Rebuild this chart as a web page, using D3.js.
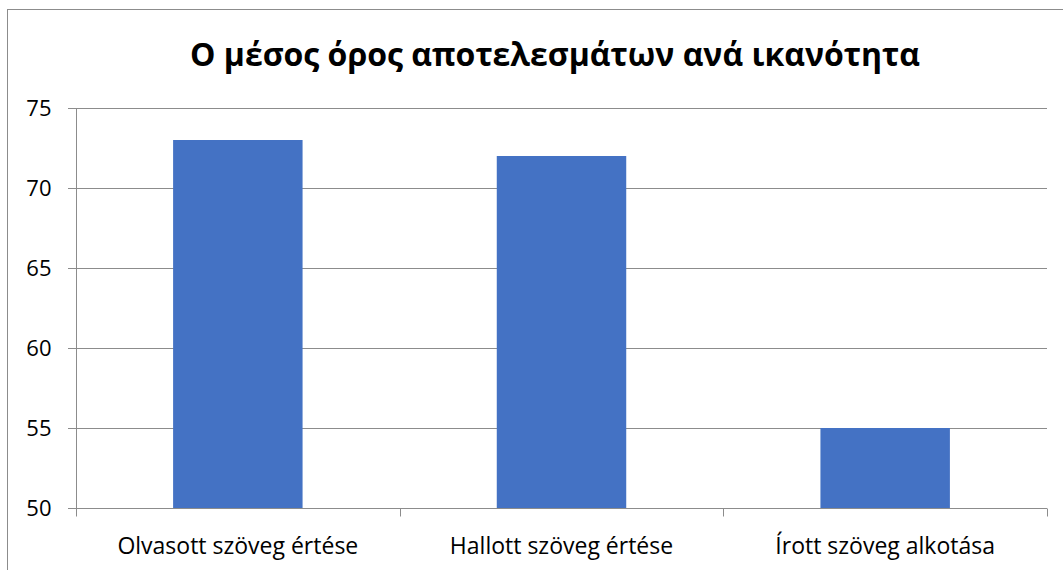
<!DOCTYPE html>
<html>
<head>
<meta charset="utf-8">
<style>
  body { margin: 0; background: #fff; }
  svg { display: block; font-family: "Open Sans", "Noto Sans", sans-serif; }
</style>
</head>
<body>
<svg width="1063" height="570"></svg>
<script src="https://d3js.org/d3.v7.min.js"></script>
<script>

  var title = "Ο μέσος όρος αποτελεσμάτων ανά ικανότητα";
  var categories = ["Olvasott szöveg értése", "Hallott szöveg értése", "Írott szöveg alkotása"];
  var values = [73, 72, 55];
  var yTicks = [50, 55, 60, 65, 70, 75];

  var svg = d3.select("svg"),
    margin = { top: 108, right: 16, bottom: 62, left: 76 },
    width = +svg.attr("width") - margin.left - margin.right,
    height = +svg.attr("height") - margin.top - margin.bottom;

  // chart frame
  svg.append("rect")
    .attr("x", 7.5).attr("y", 9.5)
    .attr("width", 1070).attr("height", 580)
    .attr("fill", "none")
    .attr("stroke", "#8c8c8c");

  svg.append("text")
    .attr("x", 555)
    .attr("y", 66)
    .attr("text-anchor", "middle")
    .attr("font-size", 32)
    .attr("font-weight", "bold")
    .attr("fill", "#000")
    .attr("textLength", 730)
    .attr("lengthAdjust", "spacingAndGlyphs")
    .text(title);

  var g = svg.append("g").attr("transform", "translate(" + margin.left + "," + margin.top + ")");

  var x = d3.scaleBand()
    .domain(categories)
    .range([0, width])
    .paddingInner(0.6)
    .paddingOuter(0.3);

  var y = d3.scaleLinear()
    .domain([50, 75])
    .range([height, 0]);

  // gridlines
  g.append("g")
    .selectAll("line")
    .data(yTicks)
    .enter().append("line")
    .attr("x1", -8)
    .attr("x2", width)
    .attr("y1", function (d) { return Math.round(y(d)) + 0.5; })
    .attr("y2", function (d) { return Math.round(y(d)) + 0.5; })
    .attr("stroke", "#8c8c8c")
    .attr("stroke-width", 1);

  g.selectAll(".bar")
    .data(values)
    .enter().append("rect")
    .attr("class", "bar")
    .attr("x", function (d, i) { return x(categories[i]); })
    .attr("y", function (d) { return y(d); })
    .attr("width", x.bandwidth())
    .attr("height", function (d) { return height - y(d); })
    .attr("fill", "#4472c4");

  // y axis
  var yAxis = d3.axisLeft(y).tickValues(yTicks).tickSize(8).tickPadding(17);
  var yG = g.append("g").attr("transform", "translate(0.5,0)").call(yAxis)
    .attr("font-family", null).attr("font-size", null);
  yG.select(".domain").attr("stroke", "#8c8c8c").attr("d", "M0,0V" + (height + 8));
  yG.selectAll(".tick line").attr("stroke", "#8c8c8c");
  yG.selectAll(".tick text").attr("font-size", 22).attr("fill", "#000");

  // x axis: ticks between categories
  var sepTicks = d3.range(categories.length + 1).map(function (i) { return i * width / categories.length; });
  var xG = g.append("g").attr("transform", "translate(0," + (Math.round(height) + 0.5) + ")");
  xG.append("line").attr("x1", 0).attr("x2", width).attr("stroke", "#8c8c8c");
  xG.selectAll(".sep")
    .data(sepTicks)
    .enter().append("line")
    .attr("class", "sep")
    .attr("x1", function (d) { return Math.round(d) + 0.5; })
    .attr("x2", function (d) { return Math.round(d) + 0.5; })
    .attr("y1", 0).attr("y2", 8)
    .attr("stroke", "#8c8c8c");
  xG.selectAll(".lab")
    .data(categories)
    .enter().append("text")
    .attr("class", "lab")
    .attr("x", function (d) { return x(d) + x.bandwidth() / 2; })
    .attr("y", 45)
    .attr("text-anchor", "middle")
    .attr("font-size", 23)
    .attr("fill", "#000")
    .text(function (d) { return d; });

</script>
</body>
</html>
